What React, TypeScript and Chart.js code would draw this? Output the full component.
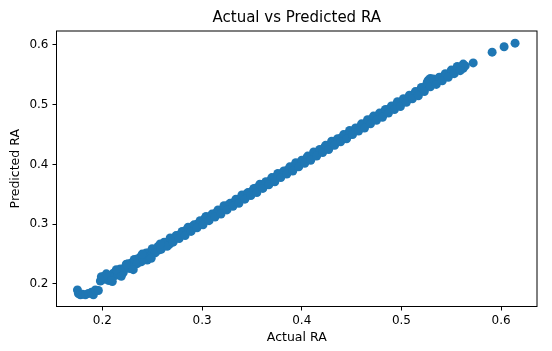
import React, { useEffect, useRef } from "react";
import { Chart, registerables } from "chart.js";

Chart.register(...registerables);

// Actual vs predicted RA values, one pair per sample
const actualRA = [
  0.175, 0.176, 0.178, 0.180, 0.183, 0.186, 0.189, 0.191, 0.193, 0.196,
  0.198, 0.200, 0.201, 0.203, 0.205, 0.206, 0.208, 0.210, 0.211, 0.213,
  0.215, 0.216, 0.218, 0.220, 0.221, 0.223, 0.225, 0.227, 0.228, 0.230,
  0.232, 0.234, 0.235, 0.237, 0.239, 0.241, 0.243, 0.245, 0.246, 0.248,
  0.250, 0.252, 0.254, 0.256, 0.257, 0.259, 0.261, 0.263, 0.265, 0.267,
  0.268, 0.270, 0.272, 0.274, 0.276, 0.278, 0.281, 0.283, 0.285, 0.287,
  0.289, 0.291, 0.293, 0.295, 0.297, 0.299, 0.301, 0.303, 0.305, 0.307,
  0.309, 0.311, 0.313, 0.315, 0.317, 0.319, 0.321, 0.323, 0.325, 0.327,
  0.329, 0.331, 0.333, 0.335, 0.337, 0.339, 0.341, 0.343, 0.345, 0.347,
  0.349, 0.351, 0.353, 0.355, 0.357, 0.359, 0.361, 0.363, 0.365, 0.367,
  0.369, 0.371, 0.373, 0.375, 0.377, 0.379, 0.381, 0.383, 0.385, 0.387,
  0.389, 0.391, 0.393, 0.395, 0.397, 0.399, 0.401, 0.403, 0.405, 0.407,
  0.409, 0.411, 0.413, 0.415, 0.417, 0.419, 0.421, 0.423, 0.425, 0.427,
  0.429, 0.431, 0.433, 0.435, 0.437, 0.439, 0.441, 0.443, 0.445, 0.447,
  0.449, 0.451, 0.453, 0.455, 0.457, 0.459, 0.461, 0.463, 0.465, 0.467,
  0.469, 0.471, 0.473, 0.475, 0.477, 0.479, 0.481, 0.483, 0.485, 0.487,
  0.489, 0.491, 0.493, 0.495, 0.497, 0.499, 0.501, 0.503, 0.505, 0.507,
  0.509, 0.511, 0.513, 0.515, 0.517, 0.519, 0.521, 0.523, 0.525, 0.527,
  0.529, 0.530, 0.532, 0.534, 0.536, 0.538, 0.540, 0.542, 0.544, 0.546,
  0.548, 0.550, 0.552, 0.554, 0.556, 0.558, 0.560, 0.562, 0.564, 0.572,
  0.591, 0.603, 0.614,
  // samples along the upper edge of the band
  0.226, 0.232, 0.238, 0.244, 0.250, 0.256, 0.262, 0.268, 0.274, 0.280,
  0.286, 0.292, 0.298, 0.304, 0.310, 0.316, 0.322, 0.328, 0.334, 0.340,
  0.346, 0.352, 0.358, 0.364, 0.370, 0.376, 0.382, 0.388, 0.394, 0.400,
  0.406, 0.412, 0.418, 0.424, 0.430, 0.436, 0.442, 0.448, 0.454, 0.460,
  0.466, 0.472, 0.478, 0.484, 0.490, 0.496, 0.502, 0.508, 0.514, 0.520,
  0.526, 0.532, 0.538, 0.544, 0.550, 0.556, 0.562,
  // samples along the lower edge of the band
  0.229, 0.235, 0.241, 0.247, 0.253, 0.259, 0.265, 0.271, 0.277, 0.283,
  0.289, 0.295, 0.301, 0.307, 0.313, 0.319, 0.325, 0.331, 0.337, 0.343,
  0.349, 0.355, 0.361, 0.367, 0.373, 0.379, 0.385, 0.391, 0.397, 0.403,
  0.409, 0.415, 0.421, 0.427, 0.433, 0.439, 0.445, 0.451, 0.457, 0.463,
  0.469, 0.475, 0.481, 0.487, 0.493, 0.499, 0.505, 0.511, 0.517, 0.523,
  0.529, 0.535, 0.541, 0.547, 0.553, 0.559,
  // wider spread at the low end
  0.199, 0.204, 0.209, 0.214, 0.219, 0.224, 0.231, 0.240, 0.249, 0.258,
];

const predictedRA = [
  0.190, 0.184, 0.182, 0.183, 0.182, 0.184, 0.186, 0.182, 0.190, 0.189,
  0.205, 0.207, 0.212, 0.209, 0.215, 0.206, 0.212, 0.204, 0.218, 0.214,
  0.221, 0.216, 0.225, 0.222, 0.219, 0.228, 0.231, 0.226, 0.233, 0.236,
  0.232, 0.239, 0.242, 0.238, 0.237, 0.244, 0.248, 0.240, 0.252, 0.249,
  0.255, 0.253, 0.258, 0.262, 0.257, 0.260, 0.265, 0.268, 0.270, 0.266,
  0.274, 0.272, 0.276, 0.280, 0.279, 0.283, 0.284, 0.289, 0.288, 0.292,
  0.291, 0.297, 0.295, 0.300, 0.299, 0.304, 0.303, 0.310, 0.307, 0.311,
  0.313, 0.314, 0.318, 0.317, 0.322, 0.323, 0.325, 0.326, 0.331, 0.330,
  0.334, 0.336, 0.335, 0.341, 0.340, 0.344, 0.345, 0.346, 0.351, 0.349,
  0.354, 0.356, 0.355, 0.361, 0.360, 0.363, 0.366, 0.365, 0.370, 0.371,
  0.373, 0.374, 0.378, 0.379, 0.380, 0.384, 0.385, 0.387, 0.390, 0.389,
  0.394, 0.396, 0.395, 0.400, 0.401, 0.403, 0.406, 0.405, 0.411, 0.410,
  0.413, 0.416, 0.415, 0.420, 0.422, 0.423, 0.424, 0.429, 0.428, 0.432,
  0.434, 0.433, 0.439, 0.438, 0.441, 0.444, 0.443, 0.448, 0.450, 0.449,
  0.454, 0.455, 0.457, 0.459, 0.461, 0.462, 0.466, 0.467, 0.470, 0.471,
  0.475, 0.476, 0.480, 0.479, 0.482, 0.484, 0.485, 0.489, 0.488, 0.492,
  0.494, 0.495, 0.498, 0.500, 0.503, 0.502, 0.506, 0.507, 0.509, 0.511,
  0.513, 0.516, 0.517, 0.519, 0.522, 0.523, 0.527, 0.528, 0.533, 0.541,
  0.544, 0.538, 0.540, 0.537, 0.542, 0.541, 0.546, 0.545, 0.549, 0.550,
  0.551, 0.555, 0.556, 0.557, 0.560, 0.559, 0.562, 0.561, 0.565, 0.570,
  0.588, 0.597, 0.603,
  0.234, 0.241, 0.245, 0.252, 0.259, 0.263, 0.270, 0.277, 0.281, 0.288,
  0.295, 0.299, 0.306, 0.313, 0.317, 0.324, 0.331, 0.335, 0.342, 0.349,
  0.353, 0.360, 0.367, 0.371, 0.378, 0.385, 0.389, 0.396, 0.403, 0.407,
  0.414, 0.421, 0.425, 0.432, 0.439, 0.443, 0.450, 0.457, 0.461, 0.468,
  0.475, 0.481, 0.486, 0.492, 0.498, 0.505, 0.510, 0.516, 0.522, 0.529,
  0.538, 0.543, 0.546, 0.552, 0.558, 0.564, 0.568,
  0.227, 0.234, 0.240, 0.245, 0.252, 0.258, 0.263, 0.270, 0.276, 0.281,
  0.288, 0.294, 0.299, 0.306, 0.312, 0.317, 0.324, 0.330, 0.335, 0.342,
  0.348, 0.353, 0.360, 0.366, 0.371, 0.378, 0.384, 0.389, 0.396, 0.402,
  0.407, 0.414, 0.420, 0.425, 0.432, 0.438, 0.443, 0.450, 0.456, 0.461,
  0.468, 0.474, 0.479, 0.486, 0.492, 0.497, 0.504, 0.510, 0.515, 0.522,
  0.530, 0.534, 0.540, 0.546, 0.552, 0.557,
  0.212, 0.217, 0.206, 0.224, 0.213, 0.233, 0.224, 0.250, 0.243, 0.267,
];

const xTicks = [0.2, 0.3, 0.4, 0.5, 0.6];
const yTicks = [0.2, 0.3, 0.4, 0.5, 0.6];

const titleText = "Actual vs Predicted RA";
const xLabel = "Actual RA";
const yLabel = "Predicted RA";

const FONT = "'DejaVu Sans', sans-serif";
const TEXT_COLOR = "#000000";
const POINT_COLOR = "#1f77b4";

// Frame around the plot area plus the title and axis labels
const framePlugin = {
  id: "frameAndLabels",
  afterDraw(chart: any) {
    const { ctx, chartArea } = chart;
    const { left, right, top, bottom } = chartArea;
    ctx.save();
    ctx.strokeStyle = "#000000";
    ctx.lineWidth = 1;
    ctx.strokeRect(left, top, right - left, bottom - top);

    ctx.fillStyle = TEXT_COLOR;
    ctx.textAlign = "center";
    ctx.textBaseline = "middle";
    const cx = (left + right) / 2;
    ctx.font = `15px ${FONT}`;
    ctx.fillText(titleText, cx, 18);

    ctx.font = `12.5px ${FONT}`;
    ctx.fillText(xLabel, cx, 338);

    ctx.translate(16, (top + bottom) / 2);
    ctx.rotate(-Math.PI / 2);
    ctx.fillText(yLabel, 0, 0);
    ctx.restore();
  },
};

export default function App() {
  const canvasRef = useRef<HTMLCanvasElement | null>(null);

  useEffect(() => {
    const canvas = canvasRef.current;
    if (!canvas) return;
    const points = actualRA.map((x, i) => ({ x, y: predictedRA[i] }));

    const chart = new Chart(canvas, {
      type: "scatter",
      data: {
        datasets: [
          {
            data: points,
            backgroundColor: POINT_COLOR,
            borderColor: POINT_COLOR,
            borderWidth: 0,
            pointRadius: 4.5,
            pointHoverRadius: 4.5,
          },
        ],
      },
      options: {
        responsive: false,
        animation: false,
        devicePixelRatio: 1,
        layout: { padding: { left: 0, right: 15, top: 31, bottom: 0 } },
        plugins: {
          legend: { display: false },
          title: { display: false },
          tooltip: { enabled: false },
        },
        scales: {
          x: {
            type: "linear",
            min: 0.154,
            max: 0.636,
            border: { display: false },
            grid: {
              drawOnChartArea: false,
              drawTicks: true,
              tickLength: 4,
              color: "#000000",
              lineWidth: 1,
            },
            ticks: {
              padding: 3,
              color: TEXT_COLOR,
              font: { family: FONT, size: 12 },
              callback: (v: any) => Number(v).toFixed(1),
            },
            afterBuildTicks: (scale: any) => {
              scale.ticks = xTicks.map((value) => ({ value }));
            },
            afterFit: (scale: any) => {
              scale.height = 44.5;
            },
          },
          y: {
            type: "linear",
            min: 0.1623,
            max: 0.6234,
            border: { display: false },
            grid: {
              drawOnChartArea: false,
              drawTicks: true,
              tickLength: 4,
              color: "#000000",
              lineWidth: 1,
            },
            ticks: {
              padding: 4,
              color: TEXT_COLOR,
              font: { family: FONT, size: 12 },
              callback: (v: any) => Number(v).toFixed(1),
            },
            afterBuildTicks: (scale: any) => {
              scale.ticks = yTicks.map((value) => ({ value }));
            },
            afterFit: (scale: any) => {
              scale.width = 56.5;
            },
          },
        },
      },
      plugins: [framePlugin],
    });

    return () => chart.destroy();
  }, []);

  return (
    <div style={{ position: "fixed", left: 0, top: 0, width: 552, height: 351, background: "#ffffff" }}>
      <canvas ref={canvasRef} width={552} height={351} style={{ display: "block" }} />
    </div>
  );
}
